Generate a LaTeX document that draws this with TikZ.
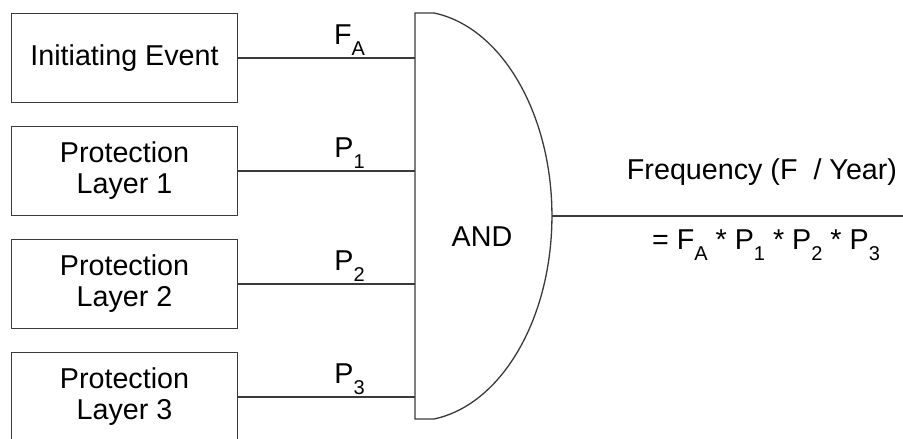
\documentclass[tikz,border=0pt]{standalone}
\usepackage{fontspec}
\setmainfont{Liberation Sans}
\usepackage{tikz}
\usetikzlibrary{positioning,calc}
\definecolor{linegray}{HTML}{3A3A3A}
\newcommand{\lowsub}[1]{\raisebox{-0.38em}{\fontsize{20}{20}\selectfont #1}}

\begin{document}
\begin{tikzpicture}[x=1pt,y=1pt,
  font=\fontsize{28.7}{31}\selectfont,
  block/.style={draw=linegray, line width=1.6pt, minimum width=226pt, minimum height=89pt, align=center, inner sep=0pt},
  wire/.style={draw=linegray, line width=1.5pt},
  gate/.style={draw=linegray, line width=1.3pt},
  lbl/.style={above, inner sep=2pt}]
\useasboundingbox (0,0) rectangle (903,439);

% Draw AND gate
\coordinate (gl) at (415,223);
\coordinate (gout) at (552,223);
\draw[gate] (415,426) -- (434,426) arc[start angle=82, end angle=-82, x radius=137, y radius=205] -- (415,20) -- cycle;
\node (andtxt) at (482,202) {AND};

% Draw events and layers
\foreach \i/\txt/\lab in {1/{Initiating Event}/{F\lowsub{A}},
                          2/{Protection\\Layer 1}/{P\lowsub{1}},
                          3/{Protection\\Layer 2}/{P\lowsub{2}},
                          4/{Protection\\Layer 3}/{P\lowsub{3}}}{
  \pgfmathsetmacro{\y}{381-113*(\i-1)}
  \node[block] (b\i) at (124.5,\y) {\txt};
  \draw[wire] (b\i.east) -- (b\i.east -| gl) node[lbl, pos=0.63] (l\i) {\lab};
}

% Draw output
\coordinate (fend) at (903,223);
\draw[wire] (gout) -- (fend);
\node[anchor=base] (freq) at (762,259) {Frequency (F~~/ Year)};
\node[anchor=base] (form) at (766,189) {= F\lowsub{A} * P\lowsub{1} * P\lowsub{2} * P\lowsub{3}};
\end{tikzpicture}
\end{document}
